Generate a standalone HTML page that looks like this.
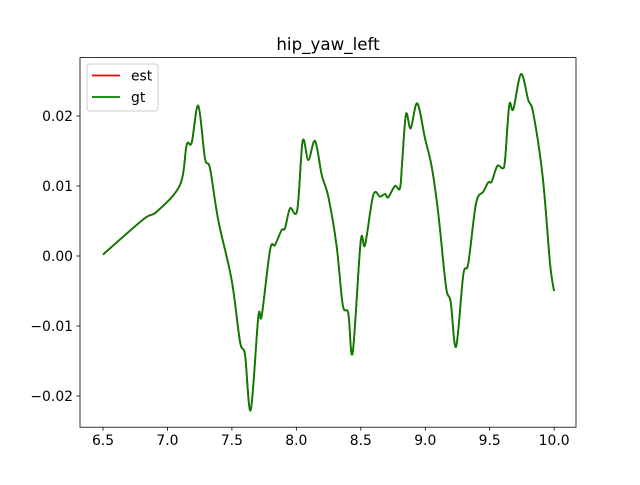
<!DOCTYPE html>
<html><head><meta charset="utf-8"><style>
body{margin:0;background:#fff}
svg text{font-family:"DejaVu Sans","Liberation Sans",sans-serif;fill:#000}
</style></head><body>
<svg id="chart" width="640" height="480" viewBox="0 0 640 480">
<rect width="640" height="480" fill="#fff"/>
<text x="328" y="50" font-size="16.7" text-anchor="middle">hip_yaw_left</text>
<g id="xt"></g>
<g id="yt"></g>
<g id="series"></g>
<rect x="80" y="57.6" width="496" height="369.6" fill="none" stroke="#000" stroke-width="0.8"/>
<g>
<rect x="87" y="64" width="71" height="47" rx="3" fill="#fff" fill-opacity="0.8" stroke="#ccc"/>
<line x1="92" y1="75.5" x2="120" y2="75.5" stroke="#ff0000" stroke-width="1.8"/>
<text x="131" y="80.5" font-size="13.9">est</text>
<line x1="92" y1="97" x2="120" y2="97" stroke="#008000" stroke-width="1.8"/>
<text x="131" y="102" font-size="13.9">gt</text>
</g>
</svg>
<script>
const xs=[6.5,6.813,6.917,7.097,7.149,7.188,7.239,7.291,7.330,7.394,7.498,7.563,7.602,7.646,7.705,7.731,7.796,7.834,7.886,7.912,7.951,8.007,8.049,8.093,8.145,8.197,8.248,8.313,8.360,8.403,8.437,8.499,8.533,8.597,8.649,8.688,8.713,8.765,8.804,8.822,8.851,8.887,8.938,8.998,9.050,9.101,9.161,9.197,9.239,9.295,9.334,9.394,9.450,9.489,9.515,9.559,9.601,9.619,9.652,9.683,9.743,9.799,9.838,9.911,9.968,9.999];
const gtVals=[0.0002,0.00524,0.00633,0.01014,0.01586,0.01619,0.02147,0.01396,0.01253,0.00514,-0.00343,-0.01224,-0.01414,-0.0220,-0.00867,-0.00857,0.00086,0.00157,0.00371,0.00396,0.00681,0.00657,0.01643,0.01371,0.01643,0.01157,0.00847,0.00133,-0.0070,-0.00819,-0.01381,0.00204,0.00157,0.00871,0.00847,0.00886,0.00839,0.0100,0.00967,0.01371,0.02029,0.01824,0.02181,0.01681,0.01276,0.0061,-0.00439,-0.00653,-0.01296,-0.00271,-0.00104,0.00753,0.00919,0.01053,0.01061,0.01286,0.01253,0.01371,0.02157,0.02096,0.0260,0.02229,0.02039,0.01133,-0.00104,-0.005];
const estVals=gtVals.slice();
const xTicks=[6.5,7.0,7.5,8.0,8.5,9.0,9.5,10.0];
const yTicks=[-0.02,-0.01,0.00,0.01,0.02];
const NS='http://www.w3.org/2000/svg';
function X(v){return 103+(v-6.5)*128.9;}
function Y(v){return 256-v*7000;}
function mk(t,a,p){const e=document.createElementNS(NS,t);for(const k in a)e.setAttribute(k,a[k]);p.appendChild(e);return e;}
const xt=document.getElementById('xt'),yt=document.getElementById('yt'),sg=document.getElementById('series');
xTicks.forEach(v=>{
 const l=mk('line',{x1:X(v),x2:X(v),y1:427.2,y2:430.7,stroke:'#000','stroke-width':0.8},xt);
 
 
 const t=mk('text',{x:X(v),y:445,'font-size':13.9,'text-anchor':'middle'},xt);
 t.textContent=v.toFixed(1);
 
 
});
yTicks.forEach(v=>{
 const l=mk('line',{x1:76.5,x2:80,y1:Y(v),y2:Y(v),stroke:'#000','stroke-width':0.8},yt);
 
 
 const t=mk('text',{x:73,y:Y(v)+5,'font-size':13.9,'text-anchor':'end'},yt);
 t.textContent=(v<0?'\u2212':'')+Math.abs(v).toFixed(2);
 
 
});
function pathFor(vals){
 const P=xs.map((x,i)=>[X(x),Y(vals[i])]);
 let d='M'+P[0][0]+','+P[0][1];
 for(let i=0;i<P.length-1;i++){
  const p0=P[Math.max(i-1,0)],p1=P[i],p2=P[i+1],p3=P[Math.min(i+2,P.length-1)];
  const c1=[p1[0]+(p2[0]-p0[0])/6,p1[1]+(p2[1]-p0[1])/6];
  const c2=[p2[0]-(p3[0]-p1[0])/6,p2[1]-(p3[1]-p1[1])/6];
  d+=' C'+c1[0]+','+c1[1]+' '+c2[0]+','+c2[1]+' '+p2[0]+','+p2[1];
 }
 return d;
}
const e=mk('path',{d:pathFor(estVals),fill:'none',stroke:'#ff0000','stroke-width':1.8},sg);


const g=mk('path',{d:pathFor(gtVals),fill:'none',stroke:'#008000','stroke-width':1.8},sg);


</script>
</body></html>
